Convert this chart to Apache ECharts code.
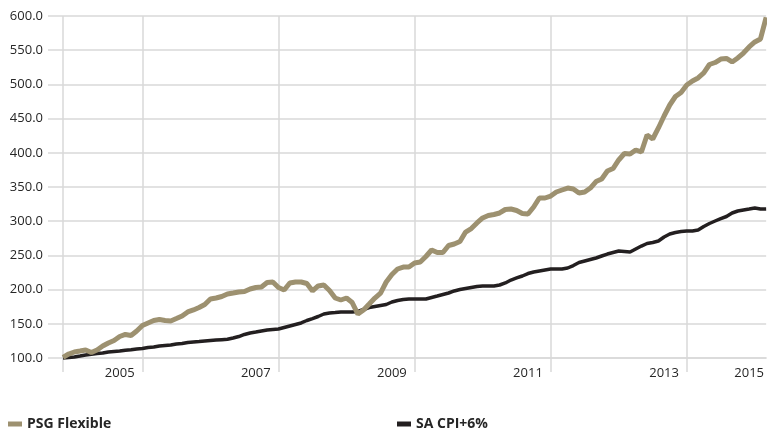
<!DOCTYPE html>
<html>
<head>
<meta charset="utf-8">
<script src="https://cdn.jsdelivr.net/npm/echarts@6/dist/echarts.min.js"></script>
<style>
    html, body { margin: 0; padding: 0; background: #fff; }
    #chart { width: 767px; height: 432px; }
</style>
</head>
<body>
<div id="chart"></div>
<script>
// monthly index values
const psgFlexible = [
    101.0, 105.8, 108.8, 110.2, 111.7, 108.0, 111.7, 117.5, 121.9, 125.6,
    131.4, 134.4, 132.9, 139.5, 147.5, 151.2, 154.8, 156.3, 154.8, 154.1,
    157.7, 161.4, 167.3, 170.2, 173.8, 178.2, 186.3, 187.7, 189.9, 193.6,
    195.0, 196.5, 197.2, 200.9, 203.1, 203.8, 210.4, 211.1, 203.1, 199.4,
    209.7, 211.1, 211.1, 208.9, 198.0, 205.3, 206.7, 198.7, 187.7, 184.8,
    187.7, 181.1, 164.3, 170.2, 178.9, 187.7, 195.0, 211.1, 222.1, 230.1,
    233.0, 233.0, 238.9, 240.4, 248.4, 257.9, 254.2, 254.2, 264.5, 266.7,
    270.3, 284.2, 289.3, 297.4, 304.7, 308.3, 309.8, 312.0, 317.1, 317.8,
    315.6, 311.3, 310.5, 320.8, 333.9, 333.9, 336.8, 342.7, 345.6, 348.5,
    347.1, 341.2, 342.7, 348.5, 358.0, 361.7, 373.4, 377.0, 389.5, 399.0,
    398.2, 404.1, 401.2, 426.0, 420.2, 436.3, 453.8, 469.9, 482.3, 488.2,
    499.1, 505.0, 509.4, 516.7, 529.1, 532.0, 537.1, 537.9, 532.8, 538.6,
    545.9, 554.7, 562.0, 566.4, 598.0
];
const saCpi = [
    100.0, 100.7, 101.5, 102.9, 104.4, 105.6, 106.6, 107.3, 108.8, 109.5,
    110.2, 111.4, 112.1, 113.2, 113.9, 115.4, 116.1, 117.5, 118.3, 119.0,
    120.5, 121.2, 122.7, 123.4, 124.1, 124.9, 125.6, 126.3, 126.8, 127.3,
    129.2, 131.4, 134.4, 136.6, 138.0, 139.5, 140.9, 141.7, 142.4, 144.6,
    146.8, 149.0, 151.2, 154.8, 157.7, 160.7, 164.3, 165.8, 166.5, 167.3,
    167.3, 167.3, 168.0, 170.9, 173.8, 175.3, 176.8, 178.2, 181.9, 184.1,
    185.5, 186.3, 186.3, 186.3, 186.3, 188.5, 190.6, 192.8, 195.0, 198.0,
    200.1, 201.6, 203.1, 204.5, 205.3, 205.3, 205.3, 206.7, 209.7, 214.0,
    217.0, 219.9, 223.5, 225.7, 227.2, 228.7, 230.1, 230.1, 230.1, 231.6,
    235.2, 239.6, 241.8, 244.0, 246.2, 249.1, 252.0, 254.2, 256.4, 255.7,
    255.0, 259.4, 263.7, 267.4, 268.9, 271.1, 276.9, 281.3, 283.5, 284.9,
    285.7, 285.7, 287.1, 292.3, 296.6, 300.3, 303.9, 306.9, 312.0, 314.9,
    316.4, 317.8, 319.3, 317.8, 318.0
];

// x tick labels and where they sit (month index)
const yearLabels = ['2005', '2007', '2009', '2011', '2013', '2015'];
const yearLabelIdx = [10, 34, 58, 82, 106, 121];
// vertical gridlines / ticks every 24 months
const gridIdx = [0, 14, 38, 62, 86, 110];

// month categories
let months = [];
for (let i = 0; i < psgFlexible.length; i++) {
    let y = 2004 + Math.floor((i + 2) / 12);
    let m = (i + 2) % 12 + 1;
    months.push(y + '-' + (m < 10 ? '0' + m : m));
}

const font = 'Open Sans';
const gridColor = '#d9d9d9';
const textColor = '#262626';

function legendAt(left, name) {
    return {
        left: left,
        top: 417,
        padding: 0,
        itemWidth: 14,
        itemHeight: 5,
        icon: 'rect',
        data: [name],
        textStyle: { fontFamily: font, fontSize: 14, fontWeight: 'bold', color: textColor },
    };
}

var myChart = echarts.init(document.getElementById('chart'));
var option = {
    animation: false,
    backgroundColor: '#fff',
    grid: {
        left: 63,
        right: 0,
        top: 16,
        bottom: 74,
    },
    legend: [
        legendAt(8, 'PSG Flexible'),
        legendAt(397, 'SA CPI+6%'),
    ],
    xAxis: {
        type: 'category',
        boundaryGap: false,
        data: months,
        axisLine: { show: true, lineStyle: { color: gridColor, width: 1.5 } },
        axisTick: {
            show: true,
            length: 14,
            interval: (idx) => gridIdx.includes(idx),
            lineStyle: { color: gridColor, width: 1.5 },
        },
        axisLabel: {
            interval: (idx) => yearLabelIdx.includes(idx),
            formatter: (val, idx) => {
                let k = yearLabelIdx.indexOf(idx);
                return k >= 0 ? yearLabels[k] : '';
            },
            margin: 9,
            fontFamily: font,
            fontSize: 13,
            color: textColor,
        },
        splitLine: {
            show: true,
            interval: (idx) => gridIdx.includes(idx),
            lineStyle: { color: gridColor, width: 1.5 },
        },
    },
    yAxis: {
        type: 'value',
        min: 100,
        max: 600,
        interval: 50,
        axisLine: { show: false },
        axisTick: { show: true, length: 15, lineStyle: { color: gridColor, width: 1.5 } },
        axisLabel: {
            formatter: (v) => v.toFixed(1),
            margin: 20,
            fontFamily: font,
            fontSize: 13,
            color: textColor,
        },
        splitLine: { lineStyle: { color: gridColor, width: 1.5 } },
    },
    series: [
        {
            name: 'PSG Flexible',
            type: 'line',
            data: psgFlexible,
            showSymbol: false,
            clip: false,
            z: 3,
            itemStyle: { color: '#9d9170' },
            lineStyle: { color: '#9d9170', width: 5 },
        },
        {
            name: 'SA CPI+6%',
            type: 'line',
            data: saCpi,
            showSymbol: false,
            clip: false,
            z: 2,
            itemStyle: { color: '#231f20' },
            lineStyle: { color: '#231f20', width: 3.5 },
        }
    ],
};
myChart.setOption(option);
</script>
</body>
</html>
